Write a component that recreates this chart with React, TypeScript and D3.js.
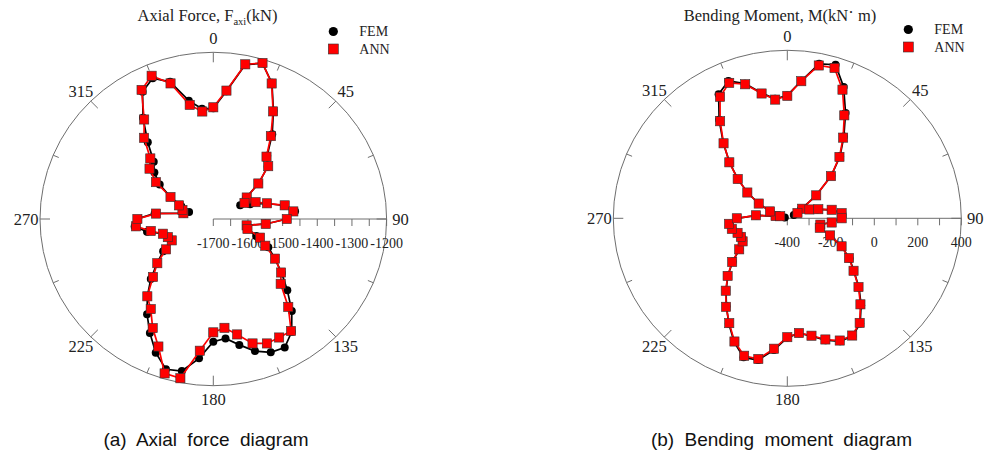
import React from 'react';
import * as d3 from 'd3';

// angle of each sample (degrees, clockwise from top)
const angles = [
  0, 5.625, 11.25, 16.875, 22.5, 28.125, 33.75, 39.375,
  45, 50.625, 56.25, 61.875, 67.5, 73.125, 78.75, 84.375,
  90, 95.625, 101.25, 106.875, 112.5, 118.125, 123.75, 129.375,
  135, 140.625, 146.25, 151.875, 157.5, 163.125, 168.75, 174.375,
  180, 185.625, 191.25, 196.875, 202.5, 208.125, 213.75, 219.375,
  225, 230.625, 236.25, 241.875, 247.5, 253.125, 258.75, 264.375,
  270, 275.625, 281.25, 286.875, 292.5, 298.125, 303.75, 309.375,
  315, 320.625, 326.25, 331.875, 337.5, 343.125, 348.75, 354.375,
];

// (a) axial force, kN
const axialFEM = [
  -1368, -1315, -1228, -1212, -1258, -1332, -1394, -1455,
  -1478, -1530, -1587, -1612, -1585, -1540, -1492, -1463,
  -1488, -1548, -1602, -1597, -1566, -1520, -1486, -1445,
  -1398, -1343, -1293, -1263, -1267, -1286, -1315, -1340,
  -1332, -1280, -1235, -1229, -1266, -1312, -1356, -1400,
  -1445, -1490, -1526, -1562, -1560, -1548, -1505, -1472,
  -1480, -1530, -1615, -1627, -1600, -1560, -1514, -1480,
  -1457, -1402, -1335, -1267, -1243, -1270, -1338, -1368,
];
const axialANN = [
  -1365, -1313, -1227, -1211, -1260, -1334, -1401, -1458,
  -1476, -1532, -1584, -1598, -1568, -1538, -1490, -1468,
  -1488, -1548, -1602, -1597, -1554, -1530, -1486, -1447,
  -1425, -1359, -1296, -1297, -1296, -1310, -1347, -1372,
  -1360, -1303, -1213, -1216, -1286, -1329, -1375, -1400,
  -1454, -1491, -1536, -1564, -1558, -1548, -1516, -1476,
  -1481, -1534, -1612, -1607, -1593, -1560, -1501, -1462,
  -1443, -1385, -1341, -1261, -1235, -1275, -1351, -1376,
];
const axialTickLabels = [-1700, -1600, -1500, -1400, -1300, -1200];

// (b) bending moment, kN·m
const momentFEM = [
  185, 258, 350, 364, 277, 168, 68, -18,
  -114, -230, -325, -366, -298, -255, -195, -146,
  -150, -197, -248, -246, -190, -118, -56, -4,
  66, 135, 203, 236, 234, 207, 172, 150,
  168, 230, 288, 292, 238, 170, 104, 44,
  -14, -75, -136, -170, -172, -162, -143, -133,
  -170, -258, -352, -388, -316, -250, -181, -106,
  -25, 64, 164, 270, 308, 270, 208, 172,
];
const momentANN = [
  183, 256, 342, 348, 263, 156, 62, -22,
  -116, -228, -318, -347, -290, -251, -192, -149,
  -150, -195, -245, -244, -187, -117, -59, -6,
  63, 130, 199, 233, 230, 203, 170, 149,
  166, 224, 283, 284, 235, 166, 107, 46,
  -12, -72, -134, -167, -169, -161, -140, -131,
  -168, -255, -345, -366, -314, -251, -179, -105,
  -23, 62, 156, 256, 298, 267, 206, 168,
];
const momentTickLabels = [-400, -200, 0, 200, 400];

const angleLabels = [0, 45, 90, 135, 180, 225, 270, 315];
const angleTicks = [0, 22.5, 45, 67.5, 90, 112.5, 135, 157.5, 180, 202.5, 225, 247.5, 270, 292.5, 315, 337.5];
const seriesNames = ['FEM', 'ANN'];

const SERIF = '"Liberation Serif", "Times New Roman", serif';
const SANS = '"Liberation Sans", Arial, sans-serif';
const AXIS = '#6e6e6e';

type PanelProps = {
  cx: number;
  cy: number;
  rx: number;
  ry: number;
  domain: [number, number];
  tickLabels: number[];
  fem: number[];
  ann: number[];
  title: React.ReactNode;
  titleX: number;
  legendX: number;
  legendY: number;
  caption: string;
  captionX: number;
};

const PolarPanel = (p: PanelProps) => {
  const { cx, cy, rx, ry } = p;
  const r = d3.scaleLinear().domain(p.domain).range([0, 1]);
  const rad = (deg: number) => (deg * Math.PI) / 180;
  const px = (deg: number, v: number) => cx + rx * r(v) * Math.sin(rad(deg));
  const py = (deg: number, v: number) => cy - ry * r(v) * Math.cos(rad(deg));

  const pts = (vals: number[]) => angles.map((a, i) => [px(a, vals[i]), py(a, vals[i])] as [number, number]);
  const line = d3.line().curve(d3.curveLinearClosed);
  const femPts = pts(p.fem);
  const annPts = pts(p.ann);

  const radialTicks = r.ticks(10);

  return (
    <g>
      {/* outer circle */}
      <ellipse cx={cx} cy={cy} rx={rx} ry={ry} fill="none" stroke={AXIS} strokeWidth={1} />
      {angleTicks.map((a) => {
        const len = a % 45 === 0 ? 10 : 6;
        const s = Math.sin(rad(a));
        const c = Math.cos(rad(a));
        return (
          <line
            key={a}
            x1={cx + rx * s}
            y1={cy - ry * c}
            x2={cx + (rx - len) * s}
            y2={cy - (ry - len) * c}
            stroke={AXIS}
            strokeWidth={1}
          />
        );
      })}
      {angleLabels.map((a) => (
        <text
          key={a}
          x={cx + rx * 1.08 * Math.sin(rad(a))}
          y={cy - ry * 1.08 * Math.cos(rad(a))}
          textAnchor="middle"
          dominantBaseline="central"
          fontFamily={SERIF}
          fontSize={16.5}
          fill="#222"
        >
          {a}
        </text>
      ))}

      {/* radial axis along 90 deg */}
      <line x1={cx} y1={cy} x2={cx + rx} y2={cy} stroke={AXIS} strokeWidth={1} />
      {radialTicks.map((t) => (
        <line key={t} x1={cx + rx * r(t)} y1={cy} x2={cx + rx * r(t)} y2={cy + 7} stroke={AXIS} strokeWidth={1} />
      ))}
      {p.tickLabels.map((t) => (
        <text
          key={t}
          x={cx + rx * r(t)}
          y={cy + 29}
          textAnchor="middle"
          fontFamily={SERIF}
          fontSize={14}
          fill="#222"
        >
          {t}
        </text>
      ))}

      {/* FEM */}
      <path d={line(femPts) || ''} fill="none" stroke="#000" strokeWidth={1.7} />
      {femPts.map(([x, y], i) => (
        <circle key={i} cx={x} cy={y} r={4} fill="#000" />
      ))}
      {/* ANN */}
      <path d={line(annPts) || ''} fill="none" stroke="#ff0000" strokeWidth={1.7} />
      {annPts.map(([x, y], i) => (
        <rect key={i} x={x - 4.6} y={y - 4.6} width={9.2} height={9.2} fill="#ff0000" stroke="#333" strokeWidth={0.6} />
      ))}

      {/* title */}
      <text x={p.titleX} y={21} textAnchor="middle" fontFamily={SERIF} fontSize={16.5} fill="#222">
        {p.title}
      </text>

      {/* legend */}
      <circle cx={p.legendX} cy={p.legendY} r={4.6} fill="#000" />
      <rect x={p.legendX - 5} y={p.legendY + 12.5} width={10} height={10} fill="#ff0000" stroke="#333" strokeWidth={0.6} />
      <text x={p.legendX + 26} y={p.legendY + 4.5} fontFamily={SERIF} fontSize={14} fill="#222">
        {seriesNames[0]}
      </text>
      <text x={p.legendX + 26} y={p.legendY + 22} fontFamily={SERIF} fontSize={14} fill="#222">
        {seriesNames[1]}
      </text>

      {/* caption */}
      <text x={p.captionX} y={446} textAnchor="middle" fontFamily={SANS} fontSize={19} wordSpacing={5} fill="#111">
        {p.caption}
      </text>
    </g>
  );
};

export default function App() {
  return (
    <svg
      width={987}
      height={458}
      viewBox="0 0 987 458"
      style={{ position: 'absolute', left: 0, top: 0, background: '#fff' }}
    >
      <rect x={0} y={0} width={987} height={458} fill="#fff" />
      <PolarPanel
        cx={213.3}
        cy={219}
        rx={173.3}
        ry={166.7}
        domain={[-1700, -1200]}
        tickLabels={axialTickLabels}
        fem={axialFEM}
        ann={axialANN}
        title={
          <>
            Axial Force, F
            <tspan dy={4} fontSize={10.5}>axi</tspan>
            <tspan dy={-4}>(kN)</tspan>
          </>
        }
        titleX={207.5}
        legendX={333.3}
        legendY={31.5}
        caption="(a) Axial force diagram"
        captionX={206}
      />
      <PolarPanel
        cx={787.3}
        cy={218.3}
        rx={174}
        ry={168}
        domain={[-400, 400]}
        tickLabels={momentTickLabels}
        fem={momentFEM}
        ann={momentANN}
        title={
          <>
            Bending Moment, M(kN
            <tspan dy={-3}>·</tspan>
            <tspan dy={3}> m)</tspan>
          </>
        }
        titleX={780}
        legendX={908.3}
        legendY={29.5}
        caption="(b) Bending moment diagram"
        captionX={781.5}
      />
    </svg>
  );
}
